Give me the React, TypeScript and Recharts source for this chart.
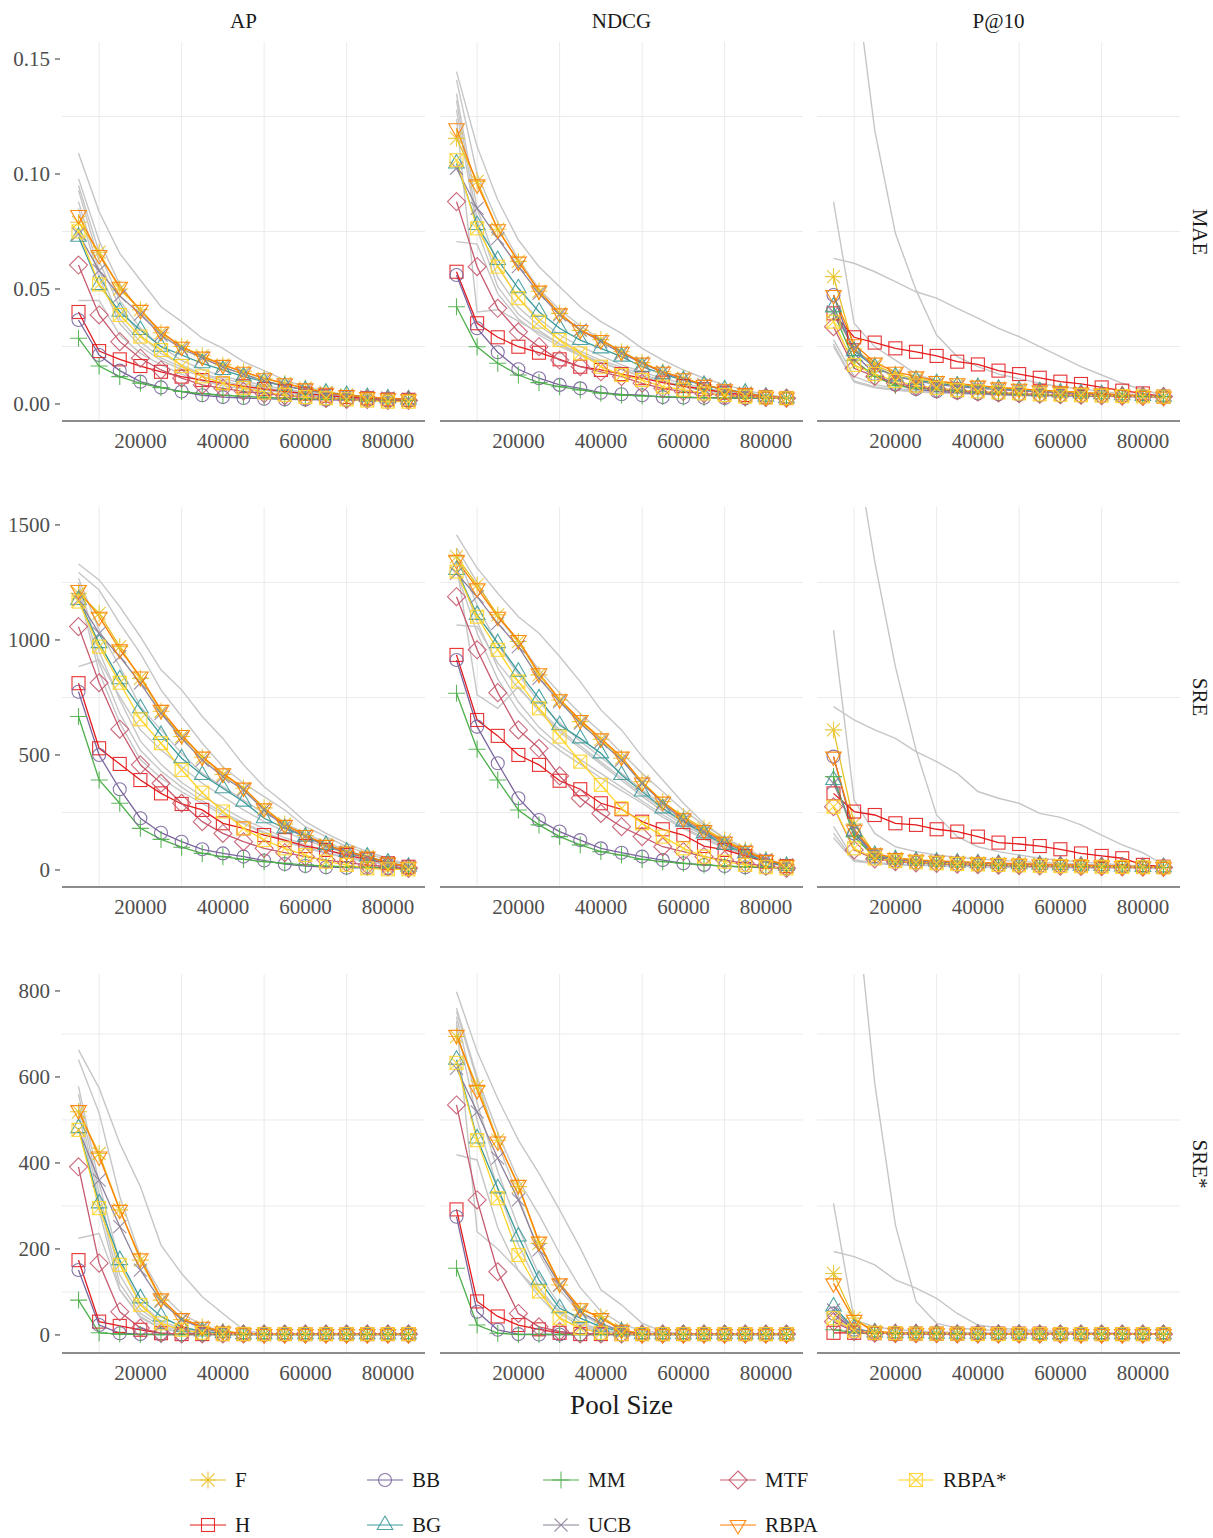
import React from 'react';
import { LineChart, Line, XAxis, YAxis, CartesianGrid } from 'recharts';

const X_POOL = [5000, 10000, 15000, 20000, 25000, 30000, 35000, 40000, 45000, 50000, 55000, 60000, 65000, 70000, 75000, 80000, 85000];
const X_TICKS = [20000, 40000, 60000, 80000];
const X_MINOR = [10000, 30000, 50000, 70000];

const METHODS = ['F', 'H', 'BB', 'BG', 'MM', 'UCB', 'MTF', 'RBPA', 'RBPA*'];
const COLORS = ['#E6C32C', '#E41A1C', '#7A659C', '#3C9A9B', '#4DAF4A', '#8E819A', '#C65A6E', '#FF7F00', '#FFD42A'];
const SHAPES = ['star', 'square', 'circle', 'triUp', 'plus', 'cross', 'diamond', 'triDown', 'squareX'];

const MAE_TICKS = [0, 0.05, 0.1, 0.15];
const MAE_MINOR = [0.025, 0.075, 0.125];
const SRE_TICKS = [0, 500, 1000, 1500];
const SRE_MINOR = [250, 750, 1250];
const SRESTAR_TICKS = [0, 200, 400, 600, 800];
const SRESTAR_MINOR = [100, 300, 500, 700];

// series order: F, H, BB, BG, MM, UCB, MTF, RBPA, RBPA*
const AP_MAE = [
  [0.079, 0.066, 0.05, 0.041, 0.031, 0.025, 0.021, 0.017, 0.014, 0.011, 0.009, 0.007, 0.005, 0.004, 0.003, 0.0025, 0.002],
  [0.04, 0.023, 0.0194, 0.0165, 0.014, 0.0119, 0.0104, 0.009, 0.0077, 0.0065, 0.0055, 0.0045, 0.0036, 0.003, 0.0025, 0.002, 0.0018],
  [0.0365, 0.0213, 0.0145, 0.0097, 0.0072, 0.0054, 0.0038, 0.003, 0.0026, 0.0023, 0.002, 0.0019, 0.0018, 0.0017, 0.0016, 0.0015, 0.0015],
  [0.0727, 0.0517, 0.0401, 0.0322, 0.0249, 0.0213, 0.0177, 0.0148, 0.0119, 0.0097, 0.0078, 0.0061, 0.0049, 0.0039, 0.003, 0.0024, 0.002],
  [0.0286, 0.0165, 0.0119, 0.009, 0.0071, 0.0054, 0.0045, 0.0038, 0.0033, 0.0029, 0.0025, 0.0023, 0.002, 0.002, 0.0018, 0.0016, 0.0015],
  [0.074, 0.058, 0.047, 0.039, 0.03, 0.024, 0.02, 0.016, 0.013, 0.01, 0.008, 0.006, 0.0045, 0.0035, 0.003, 0.0025, 0.002],
  [0.0604, 0.0387, 0.0271, 0.0199, 0.0148, 0.0112, 0.0083, 0.0068, 0.0055, 0.0045, 0.0036, 0.003, 0.0025, 0.002, 0.002, 0.0015, 0.0015],
  [0.0822, 0.0648, 0.051, 0.0409, 0.0314, 0.0249, 0.0206, 0.017, 0.014, 0.0112, 0.009, 0.0068, 0.0049, 0.0039, 0.003, 0.0025, 0.002],
  [0.075, 0.052, 0.0387, 0.0293, 0.0235, 0.0165, 0.012, 0.009, 0.007, 0.005, 0.004, 0.003, 0.0025, 0.002, 0.0015, 0.001, 0.001],
];
const AP_MAE_GRAY = [
  [0.109, 0.0836, 0.0655, 0.0539, 0.0423, 0.0358, 0.0286, 0.0242, 0.0184, 0.0145, 0.0104, 0.0075, 0.0055, 0.004, 0.003, 0.0025, 0.002],
  [0.098, 0.071, 0.052, 0.04, 0.031, 0.025, 0.02, 0.016, 0.013, 0.01, 0.008, 0.006, 0.0045, 0.0035, 0.003, 0.0025, 0.002],
  [0.095, 0.066, 0.045, 0.033, 0.025, 0.019, 0.015, 0.012, 0.01, 0.008, 0.0065, 0.005, 0.004, 0.0035, 0.003, 0.0025, 0.002],
  [0.093, 0.062, 0.042, 0.03, 0.022, 0.017, 0.013, 0.01, 0.008, 0.0065, 0.005, 0.004, 0.0035, 0.003, 0.0025, 0.002, 0.002],
  [0.088, 0.058, 0.037, 0.027, 0.02, 0.016, 0.013, 0.011, 0.009, 0.007, 0.006, 0.005, 0.004, 0.003, 0.0025, 0.002, 0.002],
  [0.085, 0.055, 0.035, 0.025, 0.019, 0.015, 0.012, 0.009, 0.007, 0.006, 0.005, 0.004, 0.003, 0.0025, 0.002, 0.002, 0.0015],
  [0.045, 0.045, 0.03, 0.022, 0.017, 0.013, 0.01, 0.008, 0.0065, 0.005, 0.004, 0.0035, 0.003, 0.0025, 0.002, 0.0018, 0.0015],
];

const NDCG_MAE = [
  [0.1155, 0.0968, 0.076, 0.062, 0.049, 0.0394, 0.032, 0.028, 0.0227, 0.018, 0.014, 0.0112, 0.0083, 0.0064, 0.0047, 0.0032, 0.0028],
  [0.0575, 0.0351, 0.029, 0.0249, 0.0223, 0.0194, 0.0162, 0.0148, 0.013, 0.0112, 0.0093, 0.0078, 0.0064, 0.0049, 0.0039, 0.003, 0.0026],
  [0.0561, 0.0329, 0.0225, 0.0151, 0.0112, 0.0083, 0.0068, 0.0049, 0.0042, 0.0038, 0.003, 0.0028, 0.0027, 0.0026, 0.0025, 0.0025, 0.0025],
  [0.1046, 0.0778, 0.0626, 0.0503, 0.0401, 0.0329, 0.0278, 0.0242, 0.0206, 0.0162, 0.013, 0.0104, 0.0083, 0.0064, 0.0049, 0.0032, 0.0025],
  [0.0423, 0.0249, 0.0177, 0.0126, 0.0093, 0.0075, 0.0061, 0.0047, 0.0039, 0.0035, 0.0032, 0.003, 0.0028, 0.0027, 0.0026, 0.0025, 0.0025],
  [0.1025, 0.0851, 0.072, 0.0597, 0.0481, 0.0387, 0.0322, 0.0271, 0.022, 0.0177, 0.0136, 0.0107, 0.0083, 0.0061, 0.0046, 0.0032, 0.0026],
  [0.088, 0.0597, 0.0416, 0.0314, 0.0249, 0.0191, 0.0162, 0.014, 0.0119, 0.009, 0.0068, 0.0054, 0.0045, 0.0038, 0.0032, 0.0028, 0.0025],
  [0.1199, 0.0955, 0.076, 0.0619, 0.0493, 0.0394, 0.0322, 0.0278, 0.0227, 0.018, 0.014, 0.0112, 0.0083, 0.0064, 0.0047, 0.0032, 0.0028],
  [0.106, 0.0764, 0.0597, 0.046, 0.0358, 0.0278, 0.022, 0.0162, 0.0126, 0.0104, 0.0075, 0.0062, 0.0046, 0.0039, 0.0032, 0.0028, 0.0025],
];
const NDCG_MAE_GRAY = [
  [0.1445, 0.1119, 0.0887, 0.0713, 0.0597, 0.051, 0.0423, 0.0358, 0.0307, 0.0242, 0.0191, 0.0148, 0.0112, 0.0083, 0.0061, 0.0039, 0.003],
  [0.1409, 0.1, 0.079, 0.063, 0.05, 0.041, 0.034, 0.028, 0.023, 0.018, 0.014, 0.011, 0.008, 0.006, 0.0045, 0.0035, 0.0028],
  [0.135, 0.085, 0.06, 0.046, 0.037, 0.03, 0.025, 0.021, 0.017, 0.014, 0.011, 0.009, 0.007, 0.0055, 0.0045, 0.0035, 0.0028],
  [0.132, 0.08, 0.055, 0.042, 0.034, 0.028, 0.023, 0.019, 0.016, 0.013, 0.01, 0.008, 0.0065, 0.005, 0.004, 0.0032, 0.0027],
  [0.128, 0.076, 0.051, 0.039, 0.032, 0.026, 0.021, 0.018, 0.015, 0.012, 0.0095, 0.0075, 0.006, 0.0048, 0.0038, 0.003, 0.0026],
  [0.0706, 0.0695, 0.048, 0.037, 0.03, 0.025, 0.021, 0.018, 0.015, 0.012, 0.0095, 0.0075, 0.006, 0.0048, 0.0038, 0.003, 0.0026],
  [0.124, 0.04, 0.041, 0.036, 0.031, 0.026, 0.022, 0.018, 0.015, 0.012, 0.0095, 0.0075, 0.006, 0.0048, 0.0038, 0.003, 0.0026],
];

const P10_MAE = [
  [0.0554, 0.024, 0.017, 0.013, 0.011, 0.0095, 0.0085, 0.0078, 0.007, 0.0065, 0.006, 0.0055, 0.005, 0.0045, 0.004, 0.0035, 0.0032],
  [0.0394, 0.029, 0.0267, 0.0242, 0.0227, 0.0209, 0.0184, 0.0172, 0.0145, 0.013, 0.0114, 0.0097, 0.0087, 0.0072, 0.0058, 0.0046, 0.0032],
  [0.0474, 0.022, 0.013, 0.0085, 0.0065, 0.0055, 0.005, 0.0045, 0.0042, 0.004, 0.0038, 0.0036, 0.0035, 0.0034, 0.0033, 0.0032, 0.0032],
  [0.0423, 0.023, 0.016, 0.012, 0.0105, 0.009, 0.008, 0.0073, 0.0066, 0.006, 0.0055, 0.005, 0.0046, 0.0042, 0.0038, 0.0035, 0.0032],
  [0.04, 0.019, 0.012, 0.008, 0.007, 0.0062, 0.0056, 0.005, 0.0046, 0.0042, 0.004, 0.0038, 0.0036, 0.0035, 0.0034, 0.0033, 0.0032],
  [0.04, 0.024, 0.016, 0.012, 0.01, 0.0085, 0.0075, 0.0068, 0.0062, 0.0057, 0.0052, 0.0048, 0.0044, 0.004, 0.0037, 0.0034, 0.0032],
  [0.0336, 0.0155, 0.012, 0.009, 0.0075, 0.0065, 0.0058, 0.0052, 0.0048, 0.0045, 0.0042, 0.004, 0.0038, 0.0036, 0.0034, 0.0033, 0.0032],
  [0.0474, 0.026, 0.018, 0.014, 0.012, 0.01, 0.009, 0.008, 0.0072, 0.0066, 0.006, 0.0055, 0.005, 0.0045, 0.004, 0.0035, 0.0032],
  [0.0358, 0.017, 0.013, 0.01, 0.008, 0.007, 0.006, 0.0055, 0.005, 0.0046, 0.0042, 0.004, 0.0038, 0.0036, 0.0034, 0.0033, 0.0032],
];
const P10_MAE_GRAY = [
  [0.3, 0.19, 0.119, 0.0742, 0.0496, 0.03, 0.0206, 0.0162, 0.013, 0.011, 0.009, 0.0075, 0.0065, 0.0055, 0.0045, 0.004, 0.0035],
  [0.088, 0.0351, 0.0249, 0.0191, 0.013, 0.01, 0.0085, 0.0075, 0.0068, 0.006, 0.0055, 0.005, 0.0045, 0.0042, 0.0038, 0.0035, 0.0032],
  [0.0633, 0.0612, 0.0575, 0.0532, 0.0488, 0.046, 0.0416, 0.0373, 0.0329, 0.0293, 0.0249, 0.0206, 0.0162, 0.0126, 0.009, 0.0061, 0.0039],
  [0.028, 0.012, 0.0085, 0.0068, 0.006, 0.0053, 0.0049, 0.0045, 0.0042, 0.004, 0.0038, 0.0036, 0.0035, 0.0034, 0.0033, 0.0032, 0.0031],
  [0.026, 0.01, 0.0075, 0.0062, 0.0055, 0.005, 0.0046, 0.0043, 0.004, 0.0038, 0.0036, 0.0035, 0.0034, 0.0033, 0.0032, 0.0031, 0.003],
  [0.025, 0.0095, 0.007, 0.006, 0.0053, 0.0048, 0.0045, 0.0042, 0.004, 0.0038, 0.0036, 0.0035, 0.0034, 0.0033, 0.0032, 0.0031, 0.003],
];

const AP_SRE = [
  [1203, 1116, 971, 833, 690, 580, 490, 415, 355, 270, 200, 150, 110, 80, 58, 32, 14],
  [812, 529, 461, 391, 333, 287, 261, 203, 181, 152, 130, 104, 87, 65, 46, 29, 14],
  [775, 500, 351, 225, 162, 123, 90, 72, 58, 41, 26, 17, 12, 10, 8, 6, 5],
  [1174, 986, 829, 703, 587, 486, 413, 355, 297, 225, 181, 145, 109, 80, 58, 32, 14],
  [667, 391, 290, 181, 133, 99, 72, 58, 46, 36, 29, 22, 17, 14, 12, 10, 7],
  [1174, 1029, 928, 812, 681, 572, 478, 406, 348, 261, 188, 145, 104, 75, 51, 29, 14],
  [1058, 814, 612, 457, 377, 290, 210, 159, 123, 94, 75, 58, 43, 32, 22, 14, 7],
  [1217, 1101, 959, 841, 696, 587, 493, 420, 358, 268, 196, 152, 109, 80, 58, 32, 14],
  [1167, 971, 814, 655, 551, 435, 336, 254, 181, 130, 94, 65, 36, 22, 7, 3, 3],
];
const AP_SRE_GRAY = [
  [1330, 1261, 1145, 1014, 870, 783, 667, 572, 457, 362, 290, 210, 159, 116, 80, 51, 22],
  [1293, 1217, 1072, 942, 783, 667, 551, 449, 377, 319, 261, 188, 145, 101, 72, 43, 22],
  [1268, 1043, 884, 710, 609, 507, 420, 362, 304, 246, 203, 159, 119, 87, 58, 36, 17],
  [884, 913, 754, 609, 522, 449, 377, 319, 261, 210, 167, 130, 101, 72, 51, 32, 14],
  [1250, 950, 740, 560, 460, 380, 320, 270, 220, 180, 140, 110, 85, 60, 40, 25, 12],
  [1230, 900, 680, 520, 430, 360, 300, 250, 205, 165, 130, 100, 75, 55, 38, 22, 10],
  [1210, 860, 640, 480, 400, 340, 290, 240, 200, 160, 125, 95, 72, 52, 35, 20, 10],
];

const NDCG_SRE = [
  [1362, 1239, 1109, 993, 848, 739, 645, 568, 486, 384, 297, 232, 181, 130, 87, 46, 22],
  [935, 652, 583, 500, 457, 388, 351, 290, 264, 210, 177, 152, 104, 87, 61, 36, 17],
  [913, 623, 464, 312, 217, 167, 130, 94, 75, 58, 43, 29, 22, 17, 12, 10, 7],
  [1304, 1109, 986, 862, 746, 630, 572, 507, 413, 341, 268, 210, 159, 109, 72, 36, 17],
  [768, 525, 391, 261, 196, 145, 109, 80, 65, 46, 36, 29, 22, 17, 14, 12, 7],
  [1290, 1188, 1072, 971, 833, 732, 638, 558, 478, 377, 290, 217, 167, 119, 80, 43, 22],
  [1188, 957, 771, 609, 529, 409, 312, 246, 188, 145, 101, 80, 58, 43, 29, 17, 7],
  [1348, 1225, 1101, 1000, 855, 742, 652, 572, 493, 380, 297, 225, 174, 123, 83, 43, 22],
  [1297, 1101, 957, 819, 703, 580, 471, 370, 268, 203, 145, 94, 58, 36, 22, 12, 7],
];
const NDCG_SRE_GRAY = [
  [1457, 1312, 1203, 1101, 1029, 928, 819, 696, 609, 493, 391, 290, 203, 138, 87, 43, 22],
  [1400, 1250, 1100, 990, 870, 770, 680, 600, 510, 420, 340, 260, 195, 140, 95, 50, 22],
  [1380, 1150, 980, 850, 730, 640, 560, 490, 420, 350, 280, 215, 160, 115, 75, 40, 18],
  [1065, 1058, 900, 790, 700, 610, 540, 470, 400, 330, 265, 205, 155, 110, 72, 38, 17],
  [1330, 761, 703, 797, 690, 600, 530, 460, 390, 320, 255, 195, 150, 105, 70, 36, 16],
  [1320, 1080, 880, 730, 620, 540, 480, 420, 360, 300, 240, 185, 140, 100, 65, 34, 15],
  [1300, 1030, 830, 690, 590, 520, 460, 400, 345, 290, 230, 180, 135, 95, 62, 32, 15],
];

const P10_SRE = [
  [609, 200, 70, 50, 42, 38, 34, 31, 28, 26, 24, 22, 20, 18, 16, 14, 12],
  [333, 254, 239, 203, 196, 177, 167, 145, 119, 113, 104, 90, 72, 61, 51, 22, 14],
  [493, 158, 60, 40, 32, 28, 25, 22, 20, 18, 17, 16, 15, 14, 13, 12, 11],
  [391, 168, 65, 46, 40, 36, 32, 29, 27, 25, 23, 21, 19, 17, 15, 13, 12],
  [406, 145, 55, 36, 30, 27, 24, 22, 20, 18, 17, 16, 15, 14, 13, 12, 11],
  [377, 172, 62, 44, 38, 34, 31, 28, 26, 24, 22, 20, 18, 16, 15, 13, 12],
  [275, 87, 48, 36, 31, 28, 25, 23, 21, 19, 17, 16, 15, 14, 13, 12, 11],
  [493, 175, 72, 52, 44, 40, 36, 33, 30, 27, 25, 23, 21, 19, 17, 15, 13],
  [275, 94, 50, 38, 33, 29, 26, 24, 22, 20, 18, 17, 16, 14, 13, 12, 11],
];
const P10_SRE_GRAY = [
  [2600, 1880, 1341, 884, 522, 239, 145, 101, 80, 65, 51, 42, 35, 28, 22, 18, 14],
  [1043, 304, 159, 101, 80, 65, 55, 48, 42, 37, 33, 29, 25, 21, 18, 15, 12],
  [710, 652, 609, 572, 515, 471, 420, 341, 312, 290, 246, 229, 196, 152, 109, 75, 22],
  [190, 45, 32, 26, 22, 20, 18, 16, 15, 14, 13, 12, 11, 10, 10, 9, 9],
  [160, 40, 30, 25, 21, 19, 17, 15, 14, 13, 12, 11, 10, 10, 9, 9, 8],
  [140, 38, 28, 23, 20, 18, 16, 14, 13, 12, 11, 10, 10, 9, 9, 8, 8],
];

const AP_SRESTAR = [
  [519, 422, 291, 174, 81, 36, 19, 8, 3, 2, 2, 2, 2, 2, 2, 2, 2],
  [174, 31, 21, 12, 4, 2, 2, 2, 2, 2, 2, 2, 2, 2, 2, 2, 2],
  [151, 23, 4, 2, 1, 1, 1, 1, 1, 1, 1, 1, 1, 1, 1, 1, 1],
  [481, 306, 174, 85, 43, 19, 8, 4, 2, 2, 2, 2, 2, 2, 2, 2, 2],
  [81, 5, 2, 1, 1, 1, 1, 1, 1, 1, 1, 1, 1, 1, 1, 1, 1],
  [477, 360, 252, 151, 78, 35, 16, 5, 2, 2, 2, 2, 2, 2, 2, 2, 2],
  [391, 167, 54, 16, 4, 2, 2, 2, 2, 2, 2, 2, 2, 2, 2, 2, 2],
  [523, 415, 291, 178, 85, 39, 19, 8, 4, 2, 2, 2, 2, 2, 2, 2, 2],
  [477, 295, 163, 70, 27, 12, 5, 2, 2, 2, 2, 2, 2, 2, 2, 2, 2],
];
const AP_SRESTAR_GRAY = [
  [663, 574, 446, 345, 209, 143, 89, 50, 12, 2, 2, 2, 2, 2, 2, 2, 2],
  [640, 516, 322, 182, 97, 50, 23, 8, 2, 2, 2, 2, 2, 2, 2, 2, 2],
  [578, 353, 167, 74, 31, 16, 8, 2, 2, 2, 2, 2, 2, 2, 2, 2, 2],
  [560, 330, 140, 60, 25, 12, 6, 3, 2, 2, 2, 2, 2, 2, 2, 2, 2],
  [540, 310, 120, 50, 20, 10, 5, 2, 2, 2, 2, 2, 2, 2, 2, 2, 2],
  [520, 290, 105, 40, 15, 8, 4, 2, 2, 2, 2, 2, 2, 2, 2, 2, 2],
  [225, 236, 105, 43, 15, 6, 3, 2, 2, 2, 2, 2, 2, 2, 2, 2, 2],
];

const NDCG_SRESTAR = [
  [694, 578, 453, 345, 213, 116, 58, 43, 13, 2, 2, 2, 2, 2, 2, 2, 2],
  [292, 78, 43, 23, 13, 5, 2, 2, 2, 2, 2, 2, 2, 2, 2, 2, 2],
  [275, 54, 12, 2, 1, 1, 1, 1, 1, 1, 1, 1, 1, 1, 1, 1, 1],
  [640, 457, 341, 229, 128, 62, 39, 19, 8, 2, 2, 2, 2, 2, 2, 2, 2],
  [155, 23, 4, 1, 1, 1, 1, 1, 1, 1, 1, 1, 1, 1, 1, 1, 1],
  [620, 519, 411, 314, 198, 116, 54, 27, 8, 2, 2, 2, 2, 2, 2, 2, 2],
  [535, 314, 147, 50, 19, 8, 2, 2, 2, 2, 2, 2, 2, 2, 2, 2, 2],
  [698, 570, 450, 349, 217, 120, 62, 39, 12, 2, 2, 2, 2, 2, 2, 2, 2],
  [633, 453, 318, 186, 101, 39, 16, 5, 2, 2, 2, 2, 2, 2, 2, 2, 2],
];
const NDCG_SRESTAR_GRAY = [
  [798, 659, 550, 453, 376, 291, 202, 105, 70, 27, 8, 2, 2, 2, 2, 2, 2],
  [760, 600, 470, 360, 280, 190, 110, 55, 25, 10, 4, 2, 2, 2, 2, 2, 2],
  [752, 593, 446, 322, 190, 105, 50, 23, 12, 2, 2, 2, 2, 2, 2, 2, 2],
  [740, 540, 380, 250, 140, 70, 30, 12, 5, 2, 2, 2, 2, 2, 2, 2, 2],
  [720, 500, 340, 210, 110, 50, 20, 8, 3, 2, 2, 2, 2, 2, 2, 2, 2],
  [419, 407, 250, 150, 100, 55, 25, 10, 4, 2, 2, 2, 2, 2, 2, 2, 2],
  [730, 240, 200, 150, 90, 40, 15, 6, 3, 2, 2, 2, 2, 2, 2, 2, 2],
];

const P10_SRESTAR = [
  [143, 39, 8, 5, 4, 4, 3, 3, 3, 3, 3, 3, 2, 2, 2, 2, 2],
  [5, 5, 4, 3, 3, 3, 3, 3, 3, 3, 3, 2, 2, 2, 2, 2, 2],
  [50, 12, 5, 4, 3, 3, 3, 3, 2, 2, 2, 2, 2, 2, 2, 2, 2],
  [66, 15, 6, 4, 4, 3, 3, 3, 3, 3, 2, 2, 2, 2, 2, 2, 2],
  [12, 6, 4, 3, 3, 3, 3, 2, 2, 2, 2, 2, 2, 2, 2, 2, 2],
  [58, 14, 6, 4, 3, 3, 3, 3, 3, 2, 2, 2, 2, 2, 2, 2, 2],
  [31, 8, 4, 3, 3, 3, 2, 2, 2, 2, 2, 2, 2, 2, 2, 2, 2],
  [120, 35, 8, 5, 4, 4, 3, 3, 3, 3, 3, 3, 2, 2, 2, 2, 2],
  [39, 10, 5, 4, 3, 3, 3, 2, 2, 2, 2, 2, 2, 2, 2, 2, 2],
];
const P10_SRESTAR_GRAY = [
  [1500, 1056, 585, 256, 78, 27, 16, 12, 10, 8, 6, 5, 4, 3, 3, 2, 2],
  [306, 35, 19, 12, 9, 7, 6, 5, 4, 4, 3, 3, 3, 2, 2, 2, 2],
  [194, 182, 163, 128, 109, 85, 50, 23, 16, 12, 10, 8, 6, 5, 4, 3, 2],
  [45, 12, 5, 4, 3, 3, 3, 2, 2, 2, 2, 2, 2, 2, 2, 2, 2],
  [35, 10, 5, 3, 3, 3, 2, 2, 2, 2, 2, 2, 2, 2, 2, 2, 2],
];

const FONT = '"Liberation Serif", "Times New Roman", serif';
const PANEL_W = 363;
const Y_AXIS_W = 62;
const X_AXIS_H = 40;

const COLS = [
  { label: 'AP', left: 62 },
  { label: 'NDCG', left: 440 },
  { label: 'P@10', left: 817 },
];

const ROWS = [
  { label: 'MAE', top: 42, height: 379, domain: [-0.0074, 0.1574], ticks: MAE_TICKS, minor: MAE_MINOR, fmt: (v: number) => v.toFixed(2) },
  { label: 'SRE', top: 507, height: 380, domain: [-74, 1578], ticks: SRE_TICKS, minor: SRE_MINOR, fmt: (v: number) => String(v) },
  { label: 'SRE*', top: 974, height: 379, domain: [-42, 839.5], ticks: SRESTAR_TICKS, minor: SRESTAR_MINOR, fmt: (v: number) => String(v) },
];

const PANELS = [
  [[AP_MAE, AP_MAE_GRAY], [NDCG_MAE, NDCG_MAE_GRAY], [P10_MAE, P10_MAE_GRAY]],
  [[AP_SRE, AP_SRE_GRAY], [NDCG_SRE, NDCG_SRE_GRAY], [P10_SRE, P10_SRE_GRAY]],
  [[AP_SRESTAR, AP_SRESTAR_GRAY], [NDCG_SRESTAR, NDCG_SRESTAR_GRAY], [P10_SRESTAR, P10_SRESTAR_GRAY]],
];

function Marker({ shape, cx, cy, color }: { shape: string; cx: number; cy: number; color: string }) {
  const s = 6.5;
  const common = { fill: 'none', stroke: color, strokeWidth: 1.1, strokeOpacity: 0.9 };
  const cross = `M${cx - s},${cy - s}L${cx + s},${cy + s}M${cx - s},${cy + s}L${cx + s},${cy - s}`;
  const plus = `M${cx - 8.5},${cy}H${cx + 8.5}M${cx},${cy - 8.5}V${cy + 8.5}`;
  switch (shape) {
    case 'circle':
      return <circle cx={cx} cy={cy} r={s} {...common} />;
    case 'square':
      return <rect x={cx - s} y={cy - s} width={2 * s} height={2 * s} {...common} />;
    case 'squareX':
      return (
        <g>
          <rect x={cx - s} y={cy - s} width={2 * s} height={2 * s} {...common} />
          <path d={cross} {...common} />
        </g>
      );
    case 'triUp':
      return <polygon points={`${cx},${cy - 9} ${cx + 7.8},${cy + 4.5} ${cx - 7.8},${cy + 4.5}`} {...common} />;
    case 'triDown':
      return <polygon points={`${cx},${cy + 9} ${cx + 7.8},${cy - 4.5} ${cx - 7.8},${cy - 4.5}`} {...common} />;
    case 'diamond':
      return <polygon points={`${cx},${cy - 9} ${cx + 9},${cy} ${cx},${cy + 9} ${cx - 9},${cy}`} {...common} />;
    case 'plus':
      return <path d={plus} {...common} />;
    case 'cross':
      return <path d={cross} {...common} />;
    case 'star':
      return <path d={plus + cross} {...common} />;
    default:
      return null;
  }
}

function buildRows(series: number[][], gray: number[][]) {
  return X_POOL.map((x, i) => {
    const r: Record<string, number> = { x };
    series.forEach((s, k) => { r['s' + k] = s[i]; });
    gray.forEach((g, k) => { r['g' + k] = g[i]; });
    return r;
  });
}

function Panel({ ri, ci }: { ri: number; ci: number }) {
  const row = ROWS[ri];
  const col = COLS[ci];
  const [series, gray] = PANELS[ri][ci];
  const data = buildRows(series, gray);
  const showY = ci === 0;
  const yw = showY ? Y_AXIS_W : 0;

  const xTick = (p: any) => (
    <text key={`xt-${p.payload.value}`} x={p.x} y={p.y + 20} dy="0.35em" textAnchor="middle" fill="#4d4d4d" fontSize={21} fontFamily={FONT}>
      {p.payload.value}
    </text>
  );
  const yTick = (p: any) => (
    <g key={`yt-${p.payload.value}`}>
      <line x1={p.x - 7} x2={p.x - 2} y1={p.y} y2={p.y} stroke="#333" strokeWidth={1} />
      <text x={p.x - 12} y={p.y} dy="0.35em" textAnchor="end" fill="#4d4d4d" fontSize={21} fontFamily={FONT}>
        {row.fmt(p.payload.value)}
      </text>
    </g>
  );

  return (
    <div style={{ position: 'absolute', left: col.left - yw, top: row.top }}>
      <LineChart width={PANEL_W + yw} height={row.height + X_AXIS_H} data={data} margin={{ top: 0, right: 0, bottom: 0, left: 0 }}>
        <CartesianGrid horizontalValues={row.minor} verticalValues={X_MINOR} stroke="#ebebeb" strokeWidth={1} />
        <XAxis
          type="number"
          dataKey="x"
          domain={[1000, 89000]}
          ticks={X_TICKS}
          interval={0}
          height={X_AXIS_H}
          tickSize={0}
          tickMargin={0}
          tickLine={false}
          axisLine={{ stroke: '#1a1a1a', strokeWidth: 1.2 }}
          tick={xTick}
          allowDataOverflow
        />
        <YAxis
          type="number"
          hide={!showY}
          width={Y_AXIS_W}
          domain={row.domain}
          ticks={row.ticks}
          interval={0}
          tickSize={0}
          tickMargin={0}
          tickLine={false}
          axisLine={false}
          tick={yTick}
          allowDataOverflow
        />
        {gray.map((_, k) => (
          <Line
            key={`g${k}`}
            type="linear"
            dataKey={`g${k}`}
            stroke="#c6c6c6"
            strokeWidth={1.4}
            dot={false}
            activeDot={false}
            isAnimationActive={false}
          />
        ))}
        {series.map((_, k) => (
          <Line
            key={`s${k}`}
            type="linear"
            dataKey={`s${k}`}
            stroke={COLORS[k]}
            strokeWidth={1.3}
            activeDot={false}
            isAnimationActive={false}
            dot={(p: any) => (
              <Marker key={`d${k}-${p.index}`} shape={SHAPES[k]} cx={p.cx} cy={p.cy} color={COLORS[k]} />
            )}
          />
        ))}
      </LineChart>
    </div>
  );
}

const LEGEND_X = [190, 367, 543, 720, 898];
const LEGEND_Y = [25, 70];

function Legend() {
  return (
    <svg width={1213} height={90} style={{ position: 'absolute', left: 0, top: 1455 }}>
      {METHODS.map((m, k) => {
        const x0 = LEGEND_X[Math.floor(k / 2)];
        const y = LEGEND_Y[k % 2];
        return (
          <g key={m}>
            <line x1={x0} x2={x0 + 36} y1={y} y2={y} stroke={COLORS[k]} strokeWidth={1.2} />
            <Marker shape={SHAPES[k]} cx={x0 + 18} cy={y} color={COLORS[k]} />
            <text x={x0 + 45} y={y} dy="0.35em" fontSize={21} fill="#1a1a1a" fontFamily={FONT}>
              {m}
            </text>
          </g>
        );
      })}
    </svg>
  );
}

export default function App() {
  return (
    <div style={{ position: 'absolute', left: 0, top: 0, width: 1213, height: 1538, background: '#fff', fontFamily: FONT }}>
      {COLS.map((c) => (
        <div
          key={c.label}
          style={{ position: 'absolute', left: c.left, top: 8, width: PANEL_W, textAlign: 'center', fontSize: 21, color: '#1a1a1a', lineHeight: '26px' }}
        >
          {c.label}
        </div>
      ))}
      {ROWS.map((r) => (
        <div
          key={r.label}
          style={{
            position: 'absolute',
            left: 1200,
            top: r.top + r.height / 2,
            transform: 'translate(-50%, -50%) rotate(90deg)',
            fontSize: 21,
            color: '#1a1a1a',
            whiteSpace: 'nowrap',
            lineHeight: '26px',
          }}
        >
          {r.label}
        </div>
      ))}
      {ROWS.map((_, ri) => COLS.map((__, ci) => <Panel key={`${ri}-${ci}`} ri={ri} ci={ci} />))}
      <div style={{ position: 'absolute', left: 440, top: 1390, width: 363, textAlign: 'center', fontSize: 27, color: '#1a1a1a', lineHeight: '30px' }}>
        Pool Size
      </div>
      <Legend />
    </div>
  );
}
